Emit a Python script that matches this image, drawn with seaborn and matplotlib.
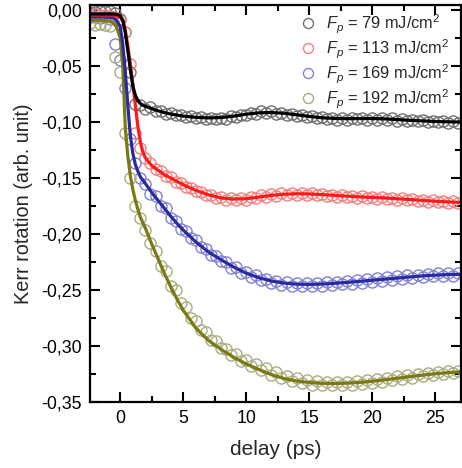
import matplotlib
matplotlib.use("Agg")
import matplotlib.pyplot as plt
from matplotlib.ticker import FuncFormatter, MultipleLocator
import seaborn as sns
import pandas as pd

# ---- data ----
delay = [-2.4, -2.0, -1.6, -1.2, -0.8, -0.4, 0.0, 0.4, 0.8, 1.2, 1.6, 2.0, 2.4, 2.8,
         3.2, 3.6, 4.0, 4.4, 4.8, 5.2, 5.6, 6.0, 6.4, 6.8, 7.2, 7.6, 8.0, 8.4, 8.8,
         9.2, 9.6, 10.0, 10.4, 10.8, 11.2, 11.6, 12.0, 12.4, 12.8, 13.2, 13.6, 14.0,
         14.4, 14.8, 15.2, 15.6, 16.0, 16.4, 16.8, 17.2, 17.6, 18.0, 18.4, 18.8, 19.2,
         19.6, 20.0, 20.4, 20.8, 21.2, 21.6, 22.0, 22.4, 22.8, 23.2, 23.6, 24.0, 24.4,
         24.8, 25.2, 25.6, 26.0, 26.4, 26.8]

kerr_79 = [-0.0020, -0.0015, -0.0010, -0.0005, -0.0008, -0.0025, -0.0080, -0.0200,
           -0.0550, -0.0840, -0.0850, -0.0880, -0.0870, -0.0905, -0.0900, -0.0925,
           -0.0915, -0.0940, -0.0935, -0.0955, -0.0950, -0.0965, -0.0955, -0.0975,
           -0.0965, -0.0975, -0.0960, -0.0970, -0.0950, -0.0955, -0.0935, -0.0940,
           -0.0915, -0.0925, -0.0905, -0.0920, -0.0905, -0.0925, -0.0915, -0.0935,
           -0.0925, -0.0945, -0.0935, -0.0955, -0.0945, -0.0968, -0.0955, -0.0975,
           -0.0962, -0.0980, -0.0965, -0.0978, -0.0962, -0.0975, -0.0960, -0.0978,
           -0.0962, -0.0980, -0.0965, -0.0982, -0.0968, -0.0988, -0.0975, -0.0992,
           -0.0978, -0.0995, -0.0983, -0.1000, -0.0988, -0.1003, -0.0990, -0.1005,
           -0.0993, -0.1008]

kerr_113 = [-0.0040, -0.0035, -0.0045, -0.0040, -0.0050, -0.0060, -0.0090, -0.0200,
            -0.0480, -0.1100, -0.1230, -0.1320, -0.1365, -0.1420, -0.1435, -0.1480,
            -0.1495, -0.1535, -0.1545, -0.1580, -0.1590, -0.1620, -0.1625, -0.1655,
            -0.1650, -0.1680, -0.1670, -0.1695, -0.1680, -0.1700, -0.1680, -0.1695,
            -0.1670, -0.1680, -0.1655, -0.1668, -0.1645, -0.1658, -0.1635, -0.1652,
            -0.1630, -0.1650, -0.1632, -0.1652, -0.1635, -0.1655, -0.1640, -0.1662,
            -0.1648, -0.1668, -0.1652, -0.1672, -0.1657, -0.1675, -0.1662, -0.1680,
            -0.1665, -0.1685, -0.1670, -0.1690, -0.1675, -0.1695, -0.1680, -0.1700,
            -0.1687, -0.1705, -0.1692, -0.1712, -0.1698, -0.1716, -0.1703, -0.1720,
            -0.1708, -0.1725]

kerr_169 = [-0.0065, -0.0060, -0.0070, -0.0065, -0.0080, -0.0300, -0.0450, -0.0700,
            -0.1150, -0.1370, -0.1500, -0.1550, -0.1640, -0.1660, -0.1750, -0.1770,
            -0.1860, -0.1880, -0.1955, -0.1975, -0.2040, -0.2055, -0.2120, -0.2130,
            -0.2190, -0.2195, -0.2245, -0.2250, -0.2300, -0.2295, -0.2345, -0.2335,
            -0.2385, -0.2370, -0.2415, -0.2400, -0.2440, -0.2420, -0.2455, -0.2430,
            -0.2462, -0.2440, -0.2465, -0.2440, -0.2462, -0.2438, -0.2460, -0.2432,
            -0.2455, -0.2428, -0.2450, -0.2420, -0.2445, -0.2412, -0.2438, -0.2405,
            -0.2428, -0.2395, -0.2420, -0.2385, -0.2410, -0.2378, -0.2400, -0.2370,
            -0.2392, -0.2362, -0.2385, -0.2355, -0.2378, -0.2350, -0.2375, -0.2348,
            -0.2372, -0.2350]

kerr_192 = [-0.0120, -0.0130, -0.0125, -0.0135, -0.0140, -0.0420, -0.0550, -0.1100,
            -0.1500, -0.1750, -0.1860, -0.1960, -0.2080, -0.2150, -0.2290, -0.2330,
            -0.2460, -0.2500, -0.2620, -0.2650, -0.2750, -0.2775, -0.2860, -0.2875,
            -0.2950, -0.2955, -0.3020, -0.3025, -0.3080, -0.3075, -0.3130, -0.3125,
            -0.3175, -0.3160, -0.3215, -0.3200, -0.3255, -0.3235, -0.3285, -0.3265,
            -0.3310, -0.3290, -0.3330, -0.3305, -0.3345, -0.3315, -0.3350, -0.3320,
            -0.3352, -0.3322, -0.3350, -0.3318, -0.3345, -0.3312, -0.3338, -0.3305,
            -0.3330, -0.3295, -0.3320, -0.3285, -0.3308, -0.3272, -0.3295, -0.3262,
            -0.3282, -0.3250, -0.3272, -0.3240, -0.3262, -0.3232, -0.3252, -0.3225,
            -0.3245, -0.3220]

fit_delay = [-2.4, -1.5, -0.9, -0.6, -0.3, 0.0, 0.2, 0.4, 0.6, 0.8, 1.0, 1.2, 1.4, 1.6,
             1.8, 2.0, 2.5, 3.0, 3.5, 4.0, 4.5, 5, 6, 7, 8, 9, 10, 11, 12, 13, 14, 15,
             16, 17, 18, 19, 20, 21, 22, 23, 24, 25, 26, 27]

fit_79 = [-0.0035, -0.0035, -0.0035, -0.0035, -0.0038, -0.0050, -0.0090, -0.0200,
          -0.0360, -0.0530, -0.0680, -0.0760, -0.0810, -0.0835, -0.0850, -0.0860,
          -0.0880, -0.0900, -0.0915, -0.0928, -0.0938, -0.0947, -0.0958, -0.0963,
          -0.0960, -0.0948, -0.0930, -0.0918, -0.0915, -0.0922, -0.0935, -0.0950,
          -0.0962, -0.0968, -0.0970, -0.0969, -0.0969, -0.0972, -0.0978, -0.0985,
          -0.0990, -0.0995, -0.0998, -0.1000]

fit_113 = [-0.0045, -0.0045, -0.0045, -0.0046, -0.0050, -0.0065, -0.0090, -0.0180,
           -0.0320, -0.0480, -0.0660, -0.0850, -0.1040, -0.1180, -0.1270, -0.1320,
           -0.1390, -0.1430, -0.1470, -0.1500, -0.1530, -0.1560, -0.1610, -0.1650,
           -0.1678, -0.1688, -0.1685, -0.1670, -0.1655, -0.1645, -0.1640, -0.1642,
           -0.1648, -0.1655, -0.1662, -0.1668, -0.1673, -0.1678, -0.1685, -0.1692,
           -0.1700, -0.1707, -0.1713, -0.1718]

fit_169 = [-0.0060, -0.0062, -0.0065, -0.0070, -0.0090, -0.0150, -0.0300, -0.0550,
           -0.0850, -0.1120, -0.1280, -0.1380, -0.1440, -0.1490, -0.1520, -0.1550,
           -0.1630, -0.1700, -0.1770, -0.1840, -0.1905, -0.1965, -0.2070, -0.2160,
           -0.2230, -0.2295, -0.2350, -0.2390, -0.2420, -0.2438, -0.2448, -0.2450,
           -0.2447, -0.2440, -0.2432, -0.2423, -0.2413, -0.2403, -0.2393, -0.2383,
           -0.2374, -0.2367, -0.2362, -0.2360]

fit_192 = [-0.0090, -0.0092, -0.0098, -0.0110, -0.0150, -0.0250, -0.0500, -0.1050,
           -0.1300, -0.1480, -0.1600, -0.1700, -0.1780, -0.1850, -0.1900, -0.1950,
           -0.2090, -0.2220, -0.2350, -0.2470, -0.2580, -0.2680, -0.2840, -0.2950,
           -0.3030, -0.3100, -0.3160, -0.3210, -0.3255, -0.3290, -0.3312, -0.3326,
           -0.3333, -0.3335, -0.3332, -0.3325, -0.3315, -0.3302, -0.3288, -0.3273,
           -0.3260, -0.3248, -0.3238, -0.3230]

labels = [r"$F_p$ = 79 mJ/cm$^2$", r"$F_p$ = 113 mJ/cm$^2$",
          r"$F_p$ = 169 mJ/cm$^2$", r"$F_p$ = 192 mJ/cm$^2$"]

marker_colors = ["#707070", "#f28080", "#8080d4", "#aaac80"]
line_colors = ["#000000", "#ff1a1a", "#2a2aa0", "#7a7a14"]

data_series = [kerr_79, kerr_113, kerr_169, kerr_192]
fit_series = [fit_79, fit_113, fit_169, fit_192]

# ---- style ----
sns.set_style("ticks")
plt.rcParams['font.family'] = ['Liberation Sans', 'DejaVu Sans']
plt.rcParams['mathtext.fontset'] = 'custom'
plt.rcParams['mathtext.rm'] = 'Liberation Sans'
plt.rcParams['mathtext.it'] = 'Liberation Sans:italic'

fig = plt.figure(figsize=(4.62, 4.68), dpi=100)
ax = fig.add_axes([90 / 462, 1 - 402 / 468, 371 / 462, 397 / 468])

for ys, mc, lab in zip(data_series, marker_colors, labels):
    df = pd.DataFrame({"delay": delay, "kerr": ys})
    sns.lineplot(data=df, x="delay", y="kerr", ax=ax, linestyle="none",
                 marker="o", markersize=8, markerfacecolor="none",
                 markeredgecolor=mc, markeredgewidth=1.0, label=lab)

for fs, lc in list(zip(fit_series, line_colors))[::-1]:
    df = pd.DataFrame({"delay": fit_delay, "kerr": fs})
    sns.lineplot(data=df, x="delay", y="kerr", ax=ax, color=lc, linewidth=2.3)

hs, ls = ax.get_legend_handles_labels()
ax.legend(hs[:4], ls[:4], loc="upper right", bbox_to_anchor=(1.0, 1.01),
          frameon=False, fontsize=11.8, handletextpad=0.6, labelspacing=0.1,
          handlelength=1.0, borderaxespad=0.3, markerscale=0.9)

ax.set_xlim(-2.4, 27.05)
ax.set_ylim(-0.35, 0.0045)
ax.xaxis.set_major_locator(MultipleLocator(5))
ax.xaxis.set_minor_locator(MultipleLocator(2.5))
ax.yaxis.set_major_locator(MultipleLocator(0.05))
ax.yaxis.set_minor_locator(MultipleLocator(0.025))
ax.yaxis.set_major_formatter(FuncFormatter(lambda v, p: f"{v:.2f}".replace('.', ',').replace('-0,00', '0,00')))

ax.tick_params(which="both", direction="in", top=True, right=True, width=1.5,
               labelsize=12.8, colors="black", pad=6)
ax.tick_params(which="major", length=7)
ax.tick_params(which="minor", length=4)
for s in ax.spines.values():
    s.set_linewidth(1.6)
    s.set_color("black")

ax.set_xlabel("delay (ps)", fontsize=15, labelpad=9)
ax.set_ylabel("Kerr rotation (arb. unit)", fontsize=14.3, labelpad=6)

fig.savefig("out.png", dpi=100)
